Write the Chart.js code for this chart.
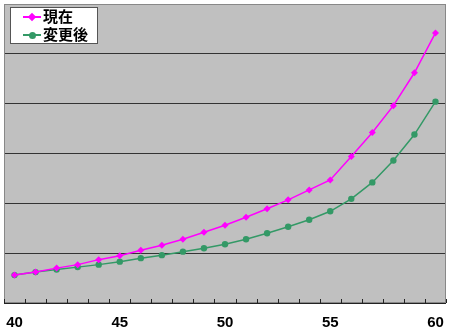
<!DOCTYPE html>
<html>
<head>
<meta charset="utf-8">
<script src="https://cdn.jsdelivr.net/npm/chart.js@4"></script>
<style>
    body { margin: 0; background: #ffffff; }
    #wrap { position: relative; width: 450px; height: 335px; }
    #legend {
        position: absolute; left: 10px; top: 7px; width: 86px; height: 35px;
        background: #ffffff; border: 1px solid #555555;
        font-family: "Noto Sans CJK JP", sans-serif; font-weight: bold; font-size: 15px;
    }
    .item { position: absolute; left: 12px; height: 18px; line-height: 18px; }
    .item .ln { position: absolute; left: 0; top: 8px; width: 18px; height: 2px; }
    .item .mk { position: absolute; left: 6px; top: 6px; width: 6px; height: 6px; }
    .item span.tx { position: absolute; left: 20px; top: -1px; white-space: nowrap; }
</style>
</head>
<body>
<div id="wrap">
    <canvas id="chart" width="450" height="335"></canvas>
    <div id="legend"></div>
</div>
<script>
const ages = [40, 41, 42, 43, 44, 45, 46, 47, 48, 49, 50, 51, 52, 53, 54, 55, 56, 57, 58, 59, 60];
const currentValues = [0.56, 0.62, 0.70, 0.77, 0.87, 0.95, 1.06, 1.16, 1.28, 1.42, 1.56, 1.72, 1.89, 2.07, 2.27, 2.47, 2.94, 3.42, 3.96, 4.62, 5.42];
const changedValues = [0.56, 0.62, 0.67, 0.72, 0.77, 0.83, 0.90, 0.96, 1.03, 1.10, 1.18, 1.28, 1.40, 1.53, 1.67, 1.84, 2.09, 2.42, 2.86, 3.38, 4.04];
const seriesNames = ['現在', '変更後'];
const yTicks = [0, 1, 2, 3, 4, 5, 6];

// gray plot area with border and small inward ticks on the x axis
const plotArea = {
    id: 'plotArea',
    beforeDraw(chart) {
        const { ctx, chartArea: a } = chart;
        ctx.save();
        ctx.fillStyle = '#c0c0c0';
        ctx.fillRect(a.left, a.top, a.right - a.left, a.bottom - a.top);
        ctx.restore();
    },
    afterDatasetsDraw(chart) {
        const { ctx, chartArea: a, scales } = chart;
        const x = scales.x;
        ctx.save();
        ctx.strokeStyle = '#888888';
        ctx.lineWidth = 1;
        ctx.strokeRect(a.left + 0.5, a.top + 0.5, a.right - a.left - 1, a.bottom - a.top - 1);
        ctx.strokeStyle = '#222222';
        ctx.beginPath();
        ctx.moveTo(a.left, a.bottom + 0.5);
        ctx.lineTo(a.right, a.bottom + 0.5);
        const step = x.getPixelForValue(1) - x.getPixelForValue(0);
        for (let i = 0; i <= ages.length; i++) {
            const px = Math.round(x.getPixelForValue(i) - step / 2) + 0.5;
            ctx.moveTo(px, a.bottom);
            ctx.lineTo(px, a.bottom - 4);
        }
        ctx.stroke();
        ctx.restore();
    }
};

const chart = new Chart(document.getElementById('chart'), {
    type: 'line',
    data: {
        labels: ages,
        datasets: [{
            label: seriesNames[0],
            data: currentValues,
            borderColor: '#ff00ff',
            backgroundColor: '#ff00ff',
            borderWidth: 1.5,
            pointStyle: 'rectRot',
            pointRadius: 3.5,
            pointBorderWidth: 0
        }, {
            label: seriesNames[1],
            data: changedValues,
            borderColor: '#339966',
            backgroundColor: '#339966',
            borderWidth: 1.5,
            pointStyle: 'circle',
            pointRadius: 3.2,
            pointBorderWidth: 0
        }]
    },
    options: {
        responsive: false,
        animation: false,
        layout: { padding: { left: 2, right: 2, top: 2, bottom: 3 } },
        plugins: {
            legend: { display: false },
            tooltip: { enabled: false }
        },
        scales: {
            x: {
                offset: true,
                border: { display: false },
                grid: { display: false, drawTicks: false },
                afterFit: function(scale) {
                    scale.height = 29;
                    scale.paddingLeft = 0;
                    scale.paddingRight = 0;
                },
                ticks: {
                    autoSkip: false,
                    maxRotation: 0,
                    padding: 11,
                    color: '#000000',
                    font: { family: '"Liberation Sans Narrow", "Liberation Sans", Arial, sans-serif', size: 15, weight: 'bold' },
                    callback: function(value) {
                        const age = ages[value];
                        return age % 5 === 0 ? String(age) : '';
                    }
                }
            },
            y: {
                min: yTicks[0],
                max: yTicks[yTicks.length - 1],
                border: { display: false },
                afterBuildTicks: function(scale) {
                    scale.ticks = yTicks.map(v => ({ value: v }));
                },
                afterFit: function(scale) { scale.width = 0; },
                grid: {
                    color: function(c) {
                        return (c.tick.value === 0 || c.tick.value === 6) ? 'rgba(0,0,0,0)' : '#333333';
                    },
                    lineWidth: 1,
                    drawTicks: false
                },
                ticks: { display: false }
            }
        }
    },
    plugins: [plotArea]
});

// legend built from the chart's datasets
const legendEl = document.getElementById('legend');
chart.data.datasets.forEach(function(ds, i) {
    const item = document.createElement('div');
    item.className = 'item';
    item.style.top = (i === 0 ? 0 : 18) + 'px';
    const mkStyle = ds.pointStyle === 'rectRot'
        ? 'transform: rotate(45deg); left:6px; width:6px; height:6px; top:6px;'
        : 'border-radius: 50%; left:6px; width:7px; height:7px; top:5.5px;';
    item.innerHTML = '<div class="ln" style="background:' + ds.borderColor + '"></div>' +
        '<div class="mk" style="background:' + ds.borderColor + ';' + mkStyle + '"></div>' +
        '<span class="tx">' + ds.label + '</span>';
    legendEl.appendChild(item);
});
</script>
</body>
</html>
